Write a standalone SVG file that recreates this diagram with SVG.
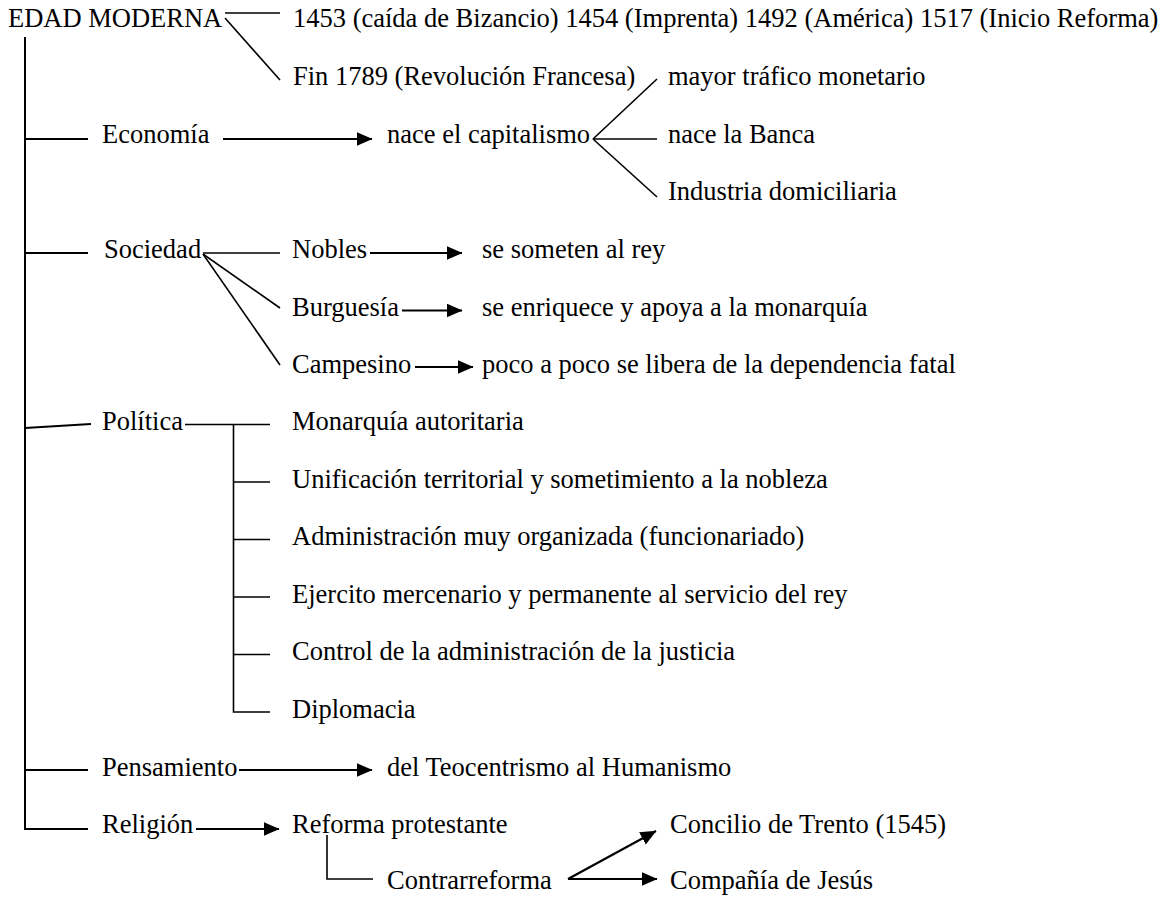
<svg xmlns="http://www.w3.org/2000/svg" width="1174" height="897" viewBox="0 0 1174 897">
<style>
text{font-family:"Liberation Serif","Times New Roman",serif;font-size:26.5px;fill:#000}
.l{stroke:#000;stroke-width:1.6;fill:none}
.t{stroke:#000;stroke-width:2;fill:none}
.a{stroke:#000;stroke-width:2.2;fill:none;marker-end:url(#ah)}
</style>
<defs>
<marker id="ah" markerUnits="userSpaceOnUse" markerWidth="16" markerHeight="14" viewBox="0 0 16 14" refX="15.5" refY="7" orient="auto">
<path d="M0,0 L16,7 L0,14 z" fill="#000"/>
</marker>
</defs>
<rect width="1174" height="897" fill="#fff"/>
<g id="connectors">
<path class="t" d="M25,37 V829 H88"/>
<path class="t" d="M25,139 H88"/>
<path class="t" d="M25,253 H88"/>
<path class="t" d="M25,428 L91,424"/>
<path class="t" d="M25,770 H88"/>
<path class="l" d="M225,13 H280"/>
<path class="l" d="M225,18 L280,80"/>
<path class="l" d="M593,139 L657,79"/>
<path class="l" d="M593,139 H657"/>
<path class="l" d="M593,139 L657,197"/>
<path class="l" d="M203,253 H280"/>
<path class="l" d="M203,254 L280,308"/>
<path class="l" d="M203,254 L280,365"/>
<path class="l" d="M185,424.5 H270"/>
<path class="l" d="M233.5,424.5 V712 H270"/>
<path class="l" d="M233.5,482 H270"/>
<path class="l" d="M233.5,539.5 H270"/>
<path class="l" d="M233.5,597 H270"/>
<path class="l" d="M233.5,654.5 H270"/>
<path class="l" d="M327,835 V879 H373"/>
<path class="a" d="M223,139 H372"/>
<path class="a" d="M370,253 H462"/>
<path class="a" d="M402,310.5 H462"/>
<path class="a" d="M415,367 H473"/>
<path class="a" d="M239,770 H372"/>
<path class="a" d="M196,829 H279"/>
<path class="a" d="M568,879 L656,831"/>
<path class="a" d="M568,879 H657"/>
</g>
<g id="edad"><text x="8" y="27">EDAD MODERNA</text></g>
<g id="inicio"><text x="293" y="27">1453 (caída de Bizancio) 1454 (Imprenta) 1492 (América) 1517 (Inicio Reforma)</text></g>
<g id="fin"><text x="293" y="85">Fin 1789 (Revolución Francesa)</text></g>
<g id="trafico"><text x="668" y="85">mayor tráfico monetario</text></g>
<g id="economia"><text x="102" y="143">Economía</text></g>
<g id="capitalismo"><text x="387" y="143">nace el capitalismo</text></g>
<g id="banca"><text x="668" y="143">nace la Banca</text></g>
<g id="industria"><text x="668" y="200">Industria domiciliaria</text></g>
<g id="sociedad"><text x="104" y="258">Sociedad</text></g>
<g id="nobles"><text x="292" y="258">Nobles</text></g>
<g id="someten"><text x="482" y="258">se someten al rey</text></g>
<g id="burguesia"><text x="292" y="316">Burguesía</text></g>
<g id="enriquece"><text x="482" y="316">se enriquece y apoya a la monarquía</text></g>
<g id="campesino"><text x="292" y="373">Campesino</text></g>
<g id="libera"><text x="482" y="373">poco a poco se libera de la dependencia fatal</text></g>
<g id="politica"><text x="102" y="430">Política</text></g>
<g id="monarquia"><text x="292" y="430">Monarquía autoritaria</text></g>
<g id="unificacion"><text x="292" y="488">Unificación territorial y sometimiento a la nobleza</text></g>
<g id="administracion"><text x="292" y="545">Administración muy organizada (funcionariado)</text></g>
<g id="ejercito"><text x="292" y="603">Ejercito mercenario y permanente al servicio del rey</text></g>
<g id="control"><text x="292" y="660">Control de la administración de la justicia</text></g>
<g id="diplomacia"><text x="292" y="718">Diplomacia</text></g>
<g id="pensamiento"><text x="102" y="776">Pensamiento</text></g>
<g id="humanismo"><text x="387" y="776">del Teocentrismo al Humanismo</text></g>
<g id="religion"><text x="102" y="833">Religión</text></g>
<g id="reforma"><text x="292" y="833">Reforma protestante</text></g>
<g id="concilio"><text x="670" y="833">Concilio de Trento (1545)</text></g>
<g id="contrarreforma"><text x="387" y="889">Contrarreforma</text></g>
<g id="compania"><text x="670" y="889">Compañía de Jesús</text></g>
</svg>
